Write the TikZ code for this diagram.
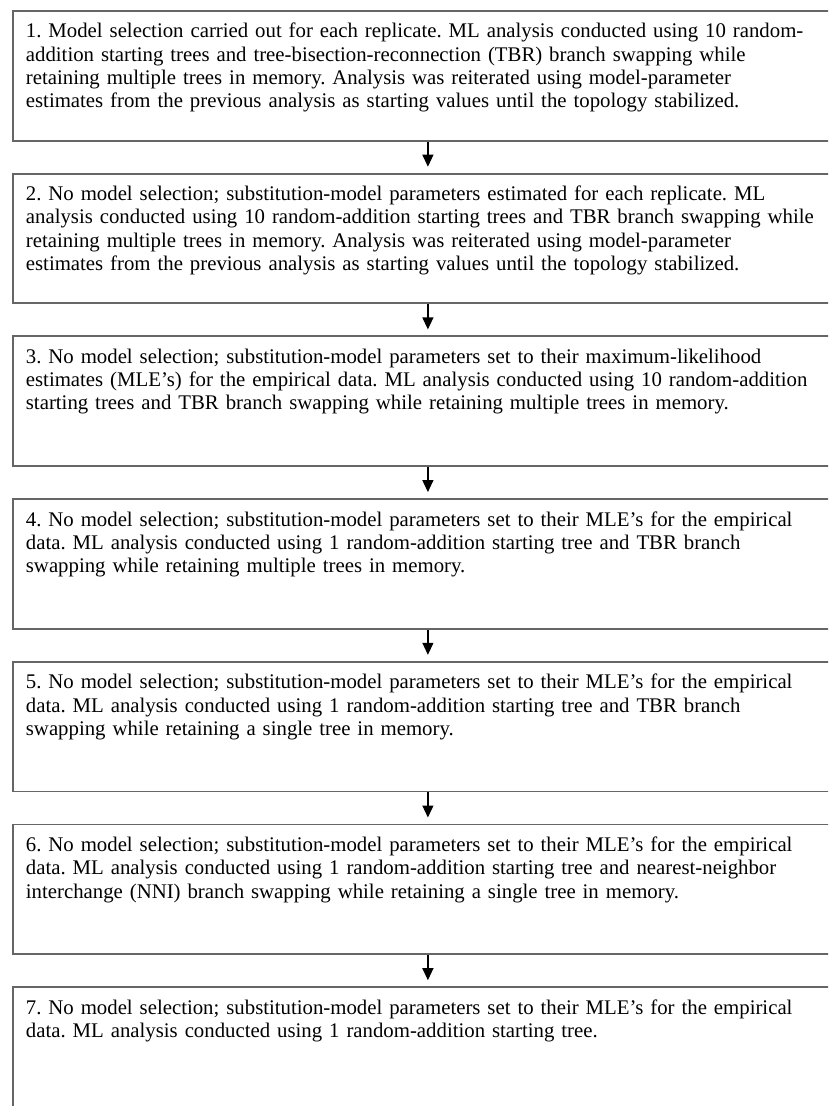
\documentclass[tikz,border=0pt]{standalone}
\usepackage{fontspec}
\setmainfont{Liberation Serif}
\usetikzlibrary{positioning,arrows.meta}
\frenchspacing

\begin{document}
\begin{tikzpicture}[x=1pt,y=-1pt,
    stage/.style={draw=black!60, line width=1.8pt, rectangle, anchor=north west,
      align=left, text width=804pt, inner xsep=13pt, inner ysep=12pt,
      text height=15pt, text depth=90.7pt,
      font=\fontsize{20.8}{23.3}\selectfont},
    node distance=31.2pt]
    \useasboundingbox (0,0) rectangle (828,1106);
    \clip (0,0) rectangle (828,1106);
    \node [stage] (s1) at (12,10) {1. Model selection carried out for each replicate. ML analysis conducted using 10 random-\\
      addition starting trees and tree-bisection-reconnection (TBR) branch swapping while\\
      retaining multiple trees in memory. Analysis was reiterated using model-parameter\\
      estimates from the previous analysis as starting values until the topology stabilized.};
    \node [stage, below=of s1] (s2) {2. No model selection; substitution-model parameters estimated for each replicate. ML\\
      analysis conducted using 10 random-addition starting trees and TBR branch swapping while\\
      retaining multiple trees in memory. Analysis was reiterated using model-parameter\\
      estimates from the previous analysis as starting values until the topology stabilized.};
    \node [stage, below=of s2] (s3) {3. No model selection; substitution-model parameters set to their maximum-likelihood\\
      estimates (MLE's) for the empirical data. ML analysis conducted using 10 random-addition\\
      starting trees and TBR branch swapping while retaining multiple trees in memory.};
    \node [stage, below=of s3] (s4) {4. No model selection; substitution-model parameters set to their MLE's for the empirical\\
      data. ML analysis conducted using 1 random-addition starting tree and TBR branch\\
      swapping while retaining multiple trees in memory.};
    \node [stage, below=of s4] (s5) {5. No model selection; substitution-model parameters set to their MLE's for the empirical\\
      data. ML analysis conducted using 1 random-addition starting tree and TBR branch\\
      swapping while retaining a single tree in memory.};
    \node [stage, below=of s5] (s6) {6. No model selection; substitution-model parameters set to their MLE's for the empirical\\
      data. ML analysis conducted using 1 random-addition starting tree and nearest-neighbor\\
      interchange (NNI) branch swapping while retaining a single tree in memory.};
    \node [stage, below=of s6] (s7) {7. No model selection; substitution-model parameters set to their MLE's for the empirical\\
      data. ML analysis conducted using 1 random-addition starting tree.};
    \foreach \a/\b in {s1/s2,s2/s3,s3/s4,s4/s5,s5/s6,s6/s7}
    \draw [->,>={Triangle[width=11pt,length=12pt]},line width=1.2pt,shorten >=6pt] (\a) -- (\b);
  \end{tikzpicture}
\end{document}
